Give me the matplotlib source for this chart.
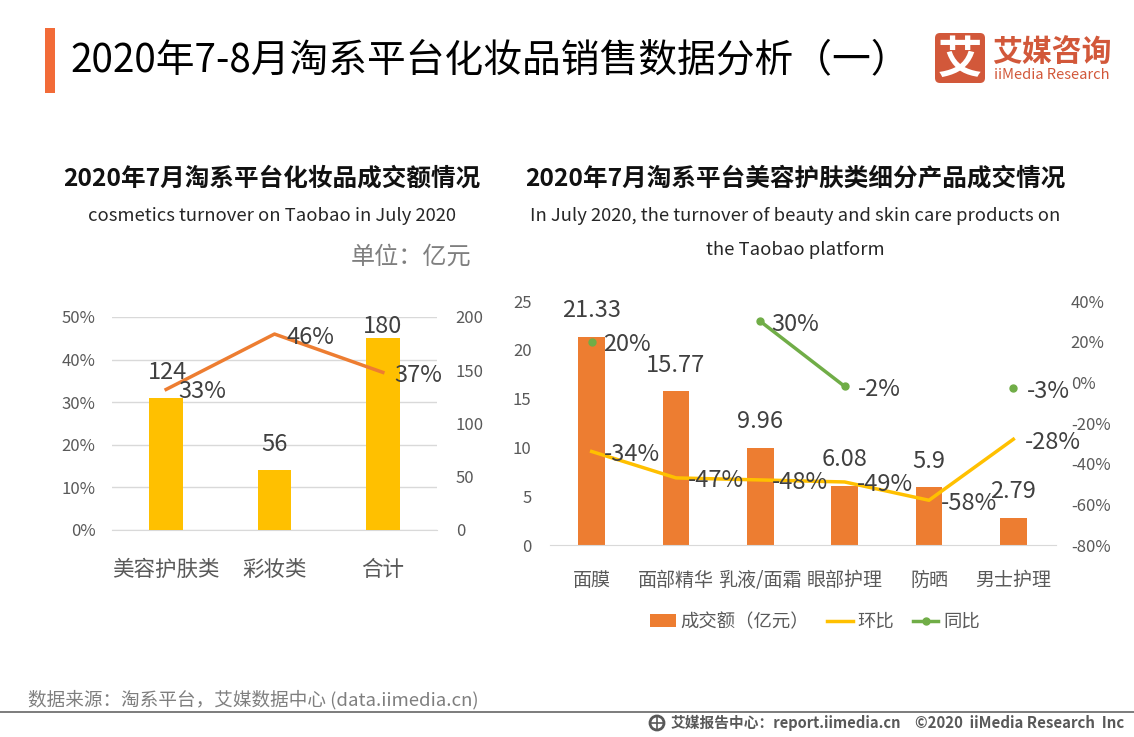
#!/usr/bin/env python3

import numpy as np
import matplotlib
matplotlib.use("Agg")
import matplotlib.pyplot as plt
from matplotlib.patches import Rectangle, FancyBboxPatch, Circle

plt.rcParams['font.family'] = ['Noto Sans CJK SC', 'DejaVu Sans']

W, H = 1134, 737

# left chart
left_cats = ["美容护肤类", "彩妆类", "合计"]
left_amount = [124, 56, 180]
left_rate = [33, 46, 37]
left_pct_ticks = [0, 10, 20, 30, 40, 50]
left_amt_ticks = [0, 50, 100, 150, 200]

# right chart
right_cats = ["面膜", "面部精华", "乳液/面霜", "眼部护理", "防晒", "男士护理"]
right_amount = [21.33, 15.77, 9.96, 6.08, 5.9, 2.79]
right_mom = [-34, -47, -48, -49, -58, -28]
right_yoy = [20, np.nan, 30, -2, np.nan, -3]
right_amt_ticks = [0, 5, 10, 15, 20, 25]
right_pct_ticks = [-80, -60, -40, -20, 0, 20, 40]

ORANGE = "#ed7d31"
YELLOW = "#ffc000"
GREEN = "#70ad47"
TICK = "#595959"
LABEL = "#404040"
GRID = "#d9d9d9"


def axes_px(x0, y0, x1, y1):
    # y is measured from the top of the picture
    return fig.add_axes([x0 / W, 1 - y1 / H, (x1 - x0) / W, (y1 - y0) / H])


def px_text(x, y, s, **kw):
    kw.setdefault("ha", "center")
    kw.setdefault("va", "center")
    return fig.text(x / W, 1 - y / H, s, **kw)


def label(ax, x, y, s, dx, dy, size=17):
    ax.annotate(s, (x, y), xytext=(dx, dy), textcoords="offset pixels",
                ha="center", va="center", fontsize=size, color=LABEL, zorder=10)


def clean(ax):
    for side in ax.spines:
        ax.spines[side].set_visible(False)
    ax.patch.set_visible(False)


fig = plt.figure(figsize=(W / 100, H / 100), dpi=100)

# header
fig.add_artist(Rectangle((45 / W, 1 - 93 / H), 10 / W, 65 / H, transform=fig.transFigure,
                         color="#f26b38", lw=0))
px_text(70, 60, "2020年7-8月淘系平台化妆品销售数据分析（一）", ha="left", fontsize=27.9,
        fontweight="medium", color="black")

# logo
logo = axes_px(934, 32, 986, 84)
logo.set_xlim(0, 52)
logo.set_ylim(52, 0)
logo.axis("off")
logo.add_patch(FancyBboxPatch((1, 1), 50, 50, boxstyle="round,pad=0,rounding_size=5",
                              fc="#d2583a", ec="none"))
logo.text(26, 28, "艾", color="white", fontsize=32, fontweight="bold", ha="center", va="center")
px_text(1052, 52, "艾媒咨询", fontsize=21.5, fontweight="bold", color="#d2583a")
px_text(1052, 75, "iiMedia Research", fontsize=10.6, fontweight="medium", color="#d2583a")

# chart headings
px_text(272, 179, "2020年7月淘系平台化妆品成交额情况", fontsize=17.7, fontweight="bold", color="#111111")
px_text(272, 216, "cosmetics turnover on Taobao in July 2020", fontsize=13.3, color="#262626")
px_text(411, 257, "单位：亿元", fontsize=17.4, color="#7f7f7f")
px_text(795, 179, "2020年7月淘系平台美容护肤类细分产品成交情况", fontsize=17.7, fontweight="bold", color="#111111")
px_text(795, 216, "In July 2020, the turnover of beauty and skin care products on", fontsize=13.3, color="#262626")
px_text(795, 250, "the Taobao platform", fontsize=13.3, color="#262626")

# left chart
ax1 = axes_px(112, 317, 437, 530)
x1 = np.arange(len(left_cats))
ax1.set_xlim(-0.5, 2.5)
ax1.set_ylim(0, 50)
ax1.set_yticks(left_pct_ticks)
ax1.set_yticklabels([f"{v}%" for v in left_pct_ticks])
ax1.set_xticks(x1)
ax1.set_xticklabels(left_cats, fontsize=15.5, color=TICK)
ax1.tick_params(axis="both", length=0, colors=TICK)
ax1.tick_params(axis="y", labelsize=12, pad=12)
ax1.tick_params(axis="x", pad=21)
ax1.grid(axis="y", color=GRID, lw=1)
ax1.set_axisbelow(True)
clean(ax1)
ax1.spines["bottom"].set_visible(True)
ax1.spines["bottom"].set_color(GRID)

ax1b = ax1.twinx()
ax1b.set_ylim(0, 200)
ax1b.set_yticks(left_amt_ticks)
ax1b.tick_params(axis="y", length=0, labelsize=12, labelcolor=TICK, pad=13.5)
ax1b.bar(x1, left_amount, width=0.31, color=YELLOW, zorder=2)
clean(ax1b)

ax1c = ax1.twinx()
ax1c.set_ylim(0, 50)
ax1c.set_yticks([])
ax1c.plot(x1, left_rate, color=ORANGE, lw=2.5, zorder=3)
clean(ax1c)
for i, v in enumerate(left_amount):
    label(ax1b, x1[i], v, str(v), [1, 0, 0][i], [25, 26, 12][i])
for i, v in enumerate(left_rate):
    label(ax1c, x1[i], v, f"{v}%", [36, 36, 35][i], [-2, -3, -3][i])

# right chart
ax2 = axes_px(549.5, 301, 1055.5, 545)
x2 = np.arange(len(right_cats))
ax2.set_xlim(-0.5, 5.5)
ax2.set_ylim(0, 25)
ax2.set_yticks(right_amt_ticks)
ax2.set_xticks(x2)
ax2.set_xticklabels(right_cats, fontsize=13.7, color=TICK)
ax2.tick_params(axis="both", length=0, colors=TICK)
ax2.tick_params(axis="y", labelsize=12, pad=13)
ax2.tick_params(axis="x", pad=18)
clean(ax2)
ax2.spines["bottom"].set_visible(True)
ax2.spines["bottom"].set_color(GRID)
bars = ax2.bar(x2, right_amount, width=0.32, color=ORANGE, zorder=2, label="成交额（亿元）")

ax2b = ax2.twinx()
ax2b.set_ylim(-80, 40)
ax2b.set_yticks(right_pct_ticks)
ax2b.set_yticklabels([f"{v}%" for v in right_pct_ticks])
ax2b.tick_params(axis="y", length=0, labelsize=12, labelcolor=TICK, pad=11)
clean(ax2b)
mom_line, = ax2b.plot(x2, right_mom, color=YELLOW, lw=2.5, zorder=3, label="环比")
yoy_line, = ax2b.plot(x2, right_yoy, color=GREEN, lw=2.5, marker="o", ms=5, zorder=4, label="同比")

for i, v in enumerate(right_amount):
    label(ax2, x2[i], v, f"{v:g}", 0, 26)
for i, v in enumerate(right_mom):
    label(ax2b, x2[i], v, f"{v}%", 40, -3)
for i, v in enumerate(right_yoy):
    if not np.isnan(v):
        label(ax2b, x2[i], v, f"{v}%", 35, -3)

fig.legend(handles=[bars, mom_line, yoy_line], loc="center", bbox_to_anchor=(815 / W, 1 - 622 / H),
           ncol=3, frameon=False, fontsize=13.2, labelcolor=TICK, handlelength=1.4,
           handletextpad=0.25, columnspacing=1.0)

# footer
px_text(28, 700, "数据来源：淘系平台，艾媒数据中心 (data.iimedia.cn)", ha="left", fontsize=13.4, color="#7f7f7f")
fig.add_artist(Rectangle((0, 1 - 713 / H), 1, 2 / H, transform=fig.transFigure, color="#7f7f7f", lw=0))
globe = axes_px(647, 714, 667, 734)
globe.set_xlim(0, 20)
globe.set_ylim(20, 0)
globe.axis("off")
globe.add_patch(Circle((10, 9), 7, fc="white", ec="#595959", lw=2))
globe.plot([3, 17], [9, 9], color="#595959", lw=1.2)
globe.plot([10, 10], [2, 16], color="#595959", lw=1.2)
px_text(671, 723, "艾媒报告中心：report.iimedia.cn", ha="left", fontsize=10.6, fontweight="bold", color="#595959")
px_text(1124, 723, "©2020  iiMedia Research  Inc", ha="right", fontsize=10.8, fontweight="bold", color="#595959")

fig.savefig("out.png", dpi=100)
